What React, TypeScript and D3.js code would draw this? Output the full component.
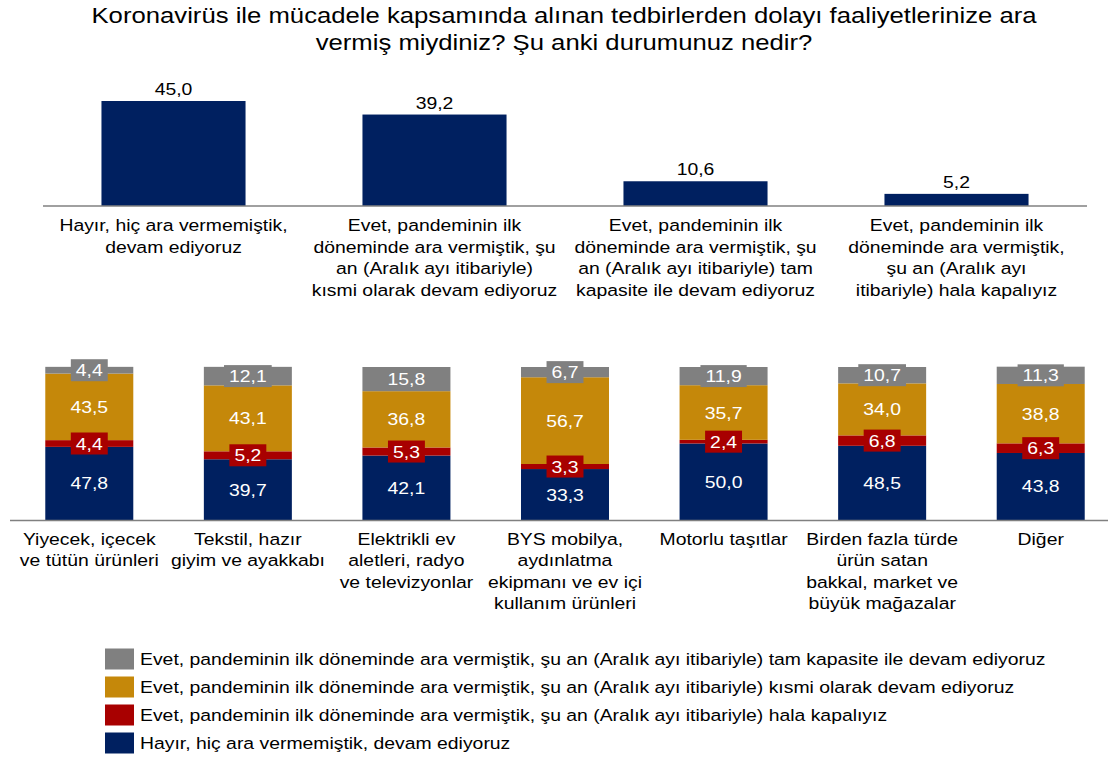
import React, { useEffect, useRef } from 'react';
import * as d3 from 'd3';

const titleLines = [
  "Koronavirüs ile mücadele kapsamında alınan tedbirlerden dolayı faaliyetlerinize ara",
  "vermiş miydiniz? Şu anki durumunuz nedir?"
];

// top chart: overall answers
const topCategories = [
  "Hayır, hiç ara vermemiştik,\ndevam ediyoruz",
  "Evet, pandeminin ilk\ndöneminde ara vermiştik, şu\nan (Aralık ayı itibariyle)\nkısmi olarak devam ediyoruz",
  "Evet, pandeminin ilk\ndöneminde ara vermiştik, şu\nan (Aralık ayı itibariyle) tam\nkapasite ile devam ediyoruz",
  "Evet, pandeminin ilk\ndöneminde ara vermiştik,\nşu an (Aralık ayı\nitibariyle) hala kapalıyız"
];
const topValues = [45.0, 39.2, 10.6, 5.2];

// bottom chart: by sector
const sectors = [
  "Yiyecek, içecek\nve tütün ürünleri",
  "Tekstil, hazır\ngiyim ve ayakkabı",
  "Elektrikli ev\naletleri, radyo\nve televizyonlar",
  "BYS mobilya,\naydınlatma\nekipmanı ve ev içi\nkullanım ürünleri",
  "Motorlu taşıtlar",
  "Birden fazla türde\nürün satan\nbakkal, market ve\nbüyük mağazalar",
  "Diğer"
];
// stacked bottom -> top
const seriesKeys = ["hayir", "kapali", "kismi", "tam"];
const seriesLabels = [
  "Hayır, hiç ara vermemiştik, devam ediyoruz",
  "Evet, pandeminin ilk döneminde ara vermiştik, şu an (Aralık ayı itibariyle) hala kapalıyız",
  "Evet, pandeminin ilk döneminde ara vermiştik, şu an (Aralık ayı itibariyle) kısmi olarak devam ediyoruz",
  "Evet, pandeminin ilk döneminde ara vermiştik, şu an (Aralık ayı itibariyle) tam kapasite ile devam ediyoruz"
];
const seriesColors = ["#002060", "#A80000", "#C5880A", "#808080"];
const hayirValues = [47.8, 39.7, 42.1, 33.3, 50.0, 48.5, 43.8];
const kapaliValues = [4.4, 5.2, 5.3, 3.3, 2.4, 6.8, 6.3];
const kismiValues = [43.5, 43.1, 36.8, 56.7, 35.7, 34.0, 38.8];
const tamValues = [4.4, 12.1, 15.8, 6.7, 11.9, 10.7, 11.3];

const FONT = "'Liberation Sans', Arial, sans-serif";
const STRETCH = 1.14; // the source text is horizontally wide
const fmt = (v: number) => d3.format(".1f")(v).replace(".", ",");

// text drawn in a group so it can be widened horizontally
function addText(parent: any, x: number, y: number, str: string, size: number, anchor = "middle", fill = "#000", sx = STRETCH) {
  const g = parent.append("g").attr("transform", `translate(${x},${y}) scale(${sx},1)`);
  const t = g.append("text")
    .attr("text-anchor", anchor)
    .attr("fill", fill)
    .style("font-size", size + "px")
    .text(str);
  return { g, t };
}

export default function App() {
  const ref = useRef<SVGSVGElement>(null);

  useEffect(() => {
    const svg = d3.select(ref.current);
    svg.selectAll("*").remove();
    svg.style("font-family", FONT);

    // title
    titleLines.forEach((line, i) => {
      addText(svg, 564, 23 + i * 27, line, 22, "middle", "#000", 1.168);
    });

    // ---- top chart
    const xTop = d3.scaleBand<string>()
      .domain(topCategories)
      .range([43, 1087])
      .paddingInner(0.448)
      .paddingOuter(0.224);
    const yTop = d3.scaleLinear()
      .domain([0, d3.max(topValues) as number])
      .range([206, 101]);

    const top = svg.append("g");
    top.selectAll("rect")
      .data(topValues)
      .enter().append("rect")
      .attr("x", (d, i) => xTop(topCategories[i]) as number)
      .attr("width", xTop.bandwidth())
      .attr("y", d => yTop(d))
      .attr("height", d => yTop(0) - yTop(d))
      .attr("fill", "#002060");

    topValues.forEach((v, i) => {
      const cx = (xTop(topCategories[i]) as number) + xTop.bandwidth() / 2;
      addText(top, cx, yTop(v) - 6, fmt(v), 17);
    });

    top.append("line")
      .attr("x1", 43).attr("x2", 1087)
      .attr("y1", 206).attr("y2", 206)
      .attr("stroke", "#808080")
      .attr("stroke-width", 1.5);

    topCategories.forEach(c => {
      const cx = (xTop(c) as number) + xTop.bandwidth() / 2;
      c.split("\n").forEach((line, i) => addText(top, cx, 231 + i * 21.5, line, 17));
    });

    // ---- bottom stacked chart
    const rows = sectors.map((s, i) => ({
      sector: s,
      hayir: hayirValues[i],
      kapali: kapaliValues[i],
      kismi: kismiValues[i],
      tam: tamValues[i]
    }));
    const stacked = d3.stack<any>().keys(seriesKeys)(rows);

    const xBot = d3.scaleBand<string>()
      .domain(sectors)
      .range([10, 1120])
      .paddingInner(0.445)
      .paddingOuter(0.2225);
    const yBot = d3.scaleLinear()
      .domain([0, 100])
      .range([520, 367]);

    const bot = svg.append("g");
    const layers = bot.selectAll("g.layer")
      .data(stacked)
      .enter().append("g")
      .attr("class", "layer")
      .attr("fill", (d, i) => seriesColors[i]);

    layers.selectAll("rect")
      .data(d => d)
      .enter().append("rect")
      .attr("x", d => xBot(d.data.sector) as number)
      .attr("width", xBot.bandwidth())
      .attr("y", d => yBot(d[1]))
      .attr("height", d => yBot(d[0]) - yBot(d[1]));

    bot.append("line")
      .attr("x1", 10).attr("x2", 1120)
      .attr("y1", 520.5).attr("y2", 520.5)
      .attr("stroke", "#808080")
      .attr("stroke-width", 1.5);

    // value labels, with a box in the series colour for thin segments
    stacked.forEach((layer, li) => {
      layer.forEach(d => {
        const val = d[1] - d[0];
        const cx = (xBot(d.data.sector) as number) + xBot.bandwidth() / 2;
        const cy = (yBot(d[0]) + yBot(d[1])) / 2;
        const segH = yBot(d[0]) - yBot(d[1]);
        const boxG = bot.append("g");
        const { t } = addText(bot, cx, cy + 6, fmt(val), 17, "middle", "#fff");
        if (segH < 19) {
          const w = (t.node() as SVGTextElement).getComputedTextLength() * STRETCH + 10;
          boxG.append("rect")
            .attr("x", cx - w / 2)
            .attr("y", cy - 11)
            .attr("width", w)
            .attr("height", 22)
            .attr("fill", seriesColors[li]);
        }
      });
    });

    sectors.forEach(s => {
      const cx = (xBot(s) as number) + xBot.bandwidth() / 2;
      s.split("\n").forEach((line, i) => addText(bot, cx, 545 + i * 21.3, line, 17));
    });

    // ---- legend (top -> bottom reversed stack order)
    const legendIdx = [3, 2, 1, 0];
    legendIdx.forEach((si, i) => {
      const y = 659 + i * 28;
      svg.append("rect")
        .attr("x", 105)
        .attr("y", y - 10.5)
        .attr("width", 29)
        .attr("height", 21)
        .attr("fill", seriesColors[si]);
      addText(svg, 140, y + 6, seriesLabels[si], 17, "start");
    });
  }, []);

  return (
    <div style={{ position: "absolute", left: 0, top: 0 }}>
      <svg ref={ref} width={1108} height={757} style={{ display: "block", background: "#fff" }} />
    </div>
  );
}
